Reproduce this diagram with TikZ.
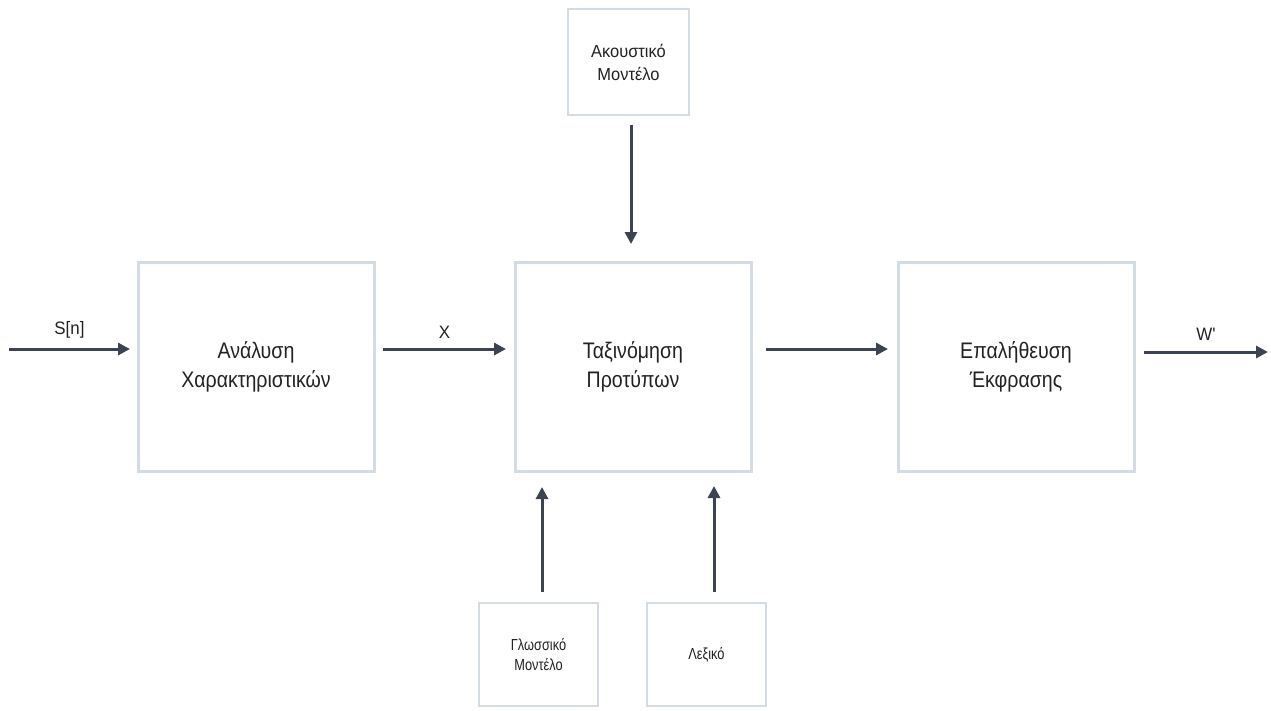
\documentclass[tikz,border=0pt]{standalone}
\usepackage{fontspec}
\setmainfont{Liberation Sans}
\newfontfamily\boxfont[FakeStretch=0.87]{Liberation Sans}
\newfontfamily\smallfont[FakeStretch=0.94]{Liberation Sans}
\newfontfamily\tinyfont[FakeStretch=0.8]{Liberation Sans}
\usetikzlibrary{arrows.meta}
\definecolor{boxline}{HTML}{D3DCE4}
\definecolor{arrowcol}{HTML}{3C4352}
\definecolor{txt}{HTML}{222222}
\begin{document}
\begin{tikzpicture}[x=1pt,y=-1pt,
  bigbox/.style={draw=boxline,line width=3pt,minimum width=236pt,minimum height=209pt,
    align=center,text=txt,font=\boxfont\fontsize{22.5}{29}\selectfont,inner sep=0pt},
  smallbox/.style={draw=boxline,line width=1.2pt,align=center,text=txt,inner sep=0pt},
  flow/.style={draw=arrowcol,line width=3pt,-{Triangle[length=12pt,width=12pt]}},
  lbl/.style={text=txt,font=\smallfont\fontsize{18}{22}\selectfont,inner sep=0pt}]
\useasboundingbox (0,0) rectangle (1271,710);
% main processing chain
\node[bigbox] (ana) at (256,366.5) {Ανάλυση\\Χαρακτηριστικών};
\node[bigbox] (tax) at (633,366.5) {Ταξινόμηση\\Προτύπων};
\node[bigbox] (epa) at (1016,366.5) {Επαλήθευση\\Έκφρασης};
% knowledge sources
\node[smallbox,minimum width=121pt,minimum height=106pt,font=\smallfont\fontsize{17.5}{23}\selectfont] (akm) at (628.5,62) {Ακουστικό\\Μοντέλο};
\node[smallbox,minimum width=119pt,minimum height=103pt,font=\tinyfont\fontsize{16}{20}\selectfont] (glm) at (538.5,654.5) {Γλωσσικό\\Μοντέλο};
\node[smallbox,minimum width=119pt,minimum height=103pt,font=\tinyfont\fontsize{16}{20}\selectfont] (lex) at (706.5,654.5) {Λεξικό};
% free ends of the input and output arrows
\coordinate (in) at (9,349);
\coordinate (out) at (1268,352);
% connectors
\draw[flow] (in) -- (130,349) node[lbl,midway,above=9pt] {S[n]};
\draw[flow] (383,349) -- (506,349) node[lbl,midway,above=9pt] {X};
\draw[flow] (766,349) -- (888,349);
\draw[flow] (1144,352) -- (out) node[lbl,midway,above=10pt] {W'};
\draw[flow] (631,125) -- (631,244);
\draw[flow] (542,592) -- (542,487);
\draw[flow] (714,592) -- (714,486);
\end{tikzpicture}
\end{document}
